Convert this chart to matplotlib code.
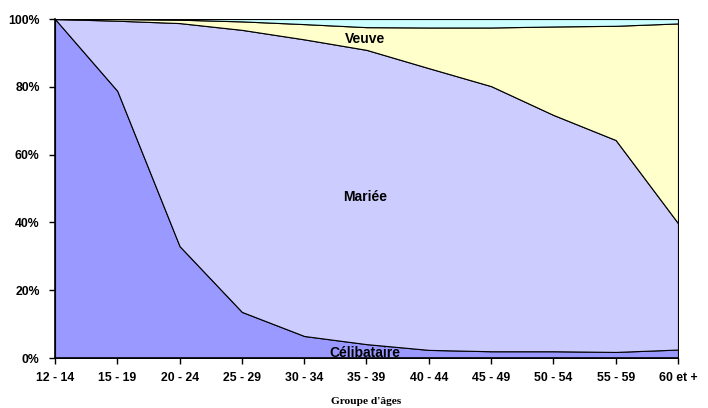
import numpy as np
import matplotlib.pyplot as plt

# Age groups and share (%) of each marital status
groupes = ["12 - 14", "15 - 19", "20 - 24", "25 - 29", "30 - 34", "35 - 39",
           "40 - 44", "45 - 49", "50 - 54", "55 - 59", "60 et +"]
celibataire = [100, 78.8, 33.0, 13.6, 6.5, 4.1, 2.4, 2.0, 2.0, 1.8, 2.5]
mariee = [0, 20.7, 65.8, 83.2, 87.5, 86.8, 83.1, 78.2, 69.7, 62.5, 37.3]
veuve = [0, 0.5, 1.0, 2.5, 4.5, 6.7, 12.0, 17.3, 26.1, 33.7, 58.9]
divorcee = [0, 0, 0.2, 0.7, 1.5, 2.4, 2.5, 2.5, 2.2, 2.0, 1.3]

colors = ["#9999FF", "#CCCCFF", "#FFFFCC", "#CCFFFF"]

fig = plt.figure(figsize=(7.08, 4.08), dpi=100)
ax = fig.add_axes([0.0777, 0.1225, 0.8799, 0.8309])

x = np.arange(len(groupes))
ax.stackplot(x, celibataire, mariee, veuve, divorcee, colors=colors,
             edgecolor="black", linewidth=0.8)

ax.set_xlim(0, len(groupes) - 1)
ax.set_ylim(0, 100)

ax.set_yticks(range(0, 101, 20))
ax.set_yticklabels([f"{v}%" for v in range(0, 101, 20)])
ax.set_xticks(x)
ax.set_xticklabels(groupes)

for lab in ax.get_xticklabels() + ax.get_yticklabels():
    lab.set_fontfamily("Liberation Sans")
    lab.set_fontweight("bold")
    lab.set_fontsize(8.8)

ax.tick_params(axis="x", direction="out", length=4, width=1, color="black", pad=6)
ax.tick_params(axis="y", direction="out", length=4, width=1, color="black", pad=7)

for side in ["top", "right"]:
    ax.spines[side].set_visible(False)
for side in ["left", "bottom"]:
    ax.spines[side].set_linewidth(1.2)

# axis title placed under the tick labels
fig.text(0.517, 0.017, "Groupe d'âges", fontfamily="Liberation Serif",
         fontweight="bold", fontsize=8.2, ha="center", va="center")

# labels inside the areas
lab_kw = dict(fontfamily="Liberation Sans", fontweight="bold", fontsize=10,
              ha="center", va="center")
ax.text(4.97, 47.5, "Mariée", **lab_kw)
ax.text(4.97, 94.2, "Veuve", **lab_kw)
ax.text(4.97, 1.5, "Célibataire", **lab_kw)

fig.savefig("out.png", dpi=100)
